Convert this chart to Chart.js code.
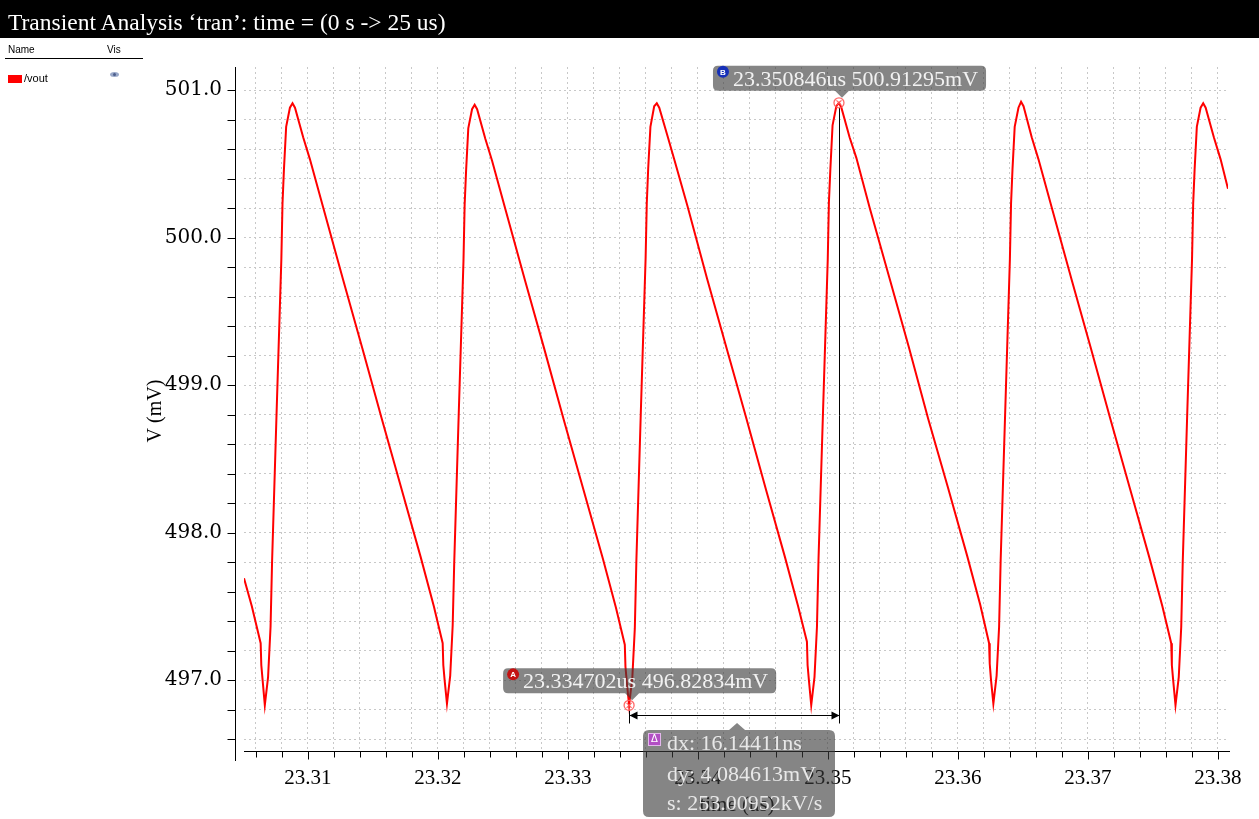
<!DOCTYPE html>
<html>
<head>
<meta charset="utf-8">
<script src="https://cdn.jsdelivr.net/npm/chart.js@4.4.1/dist/chart.umd.min.js"></script>
<style>
  html, body { margin: 0; padding: 0; background: #fff; }
  #wrap { position: relative; width: 1259px; height: 819px; overflow: hidden; }
  #plot { position: absolute; left: 0; top: 0; }
  #titlebar { position: absolute; left: 0; top: 0; width: 1259px; height: 38px; background: #000; }
  #titlebar span { position: absolute; left: 8px; top: 11px; font: 23.5px/23px "Liberation Serif", serif; color: #fff; white-space: nowrap; }
  .lg { position: absolute; font-family: "Liberation Sans", Arial, sans-serif; color: #000; white-space: nowrap; }
  #lgline { position: absolute; left: 5px; top: 58px; width: 138px; height: 1px; background: #000; }
  #swatch { position: absolute; left: 8px; top: 75px; width: 14px; height: 8px; background: #ff0000; }
  #eye { position: absolute; left: 110px; top: 72px; width: 9px; height: 5px; border-radius: 50%; background: #9aa9c9; }
  #eye i { position: absolute; left: 3px; top: 1px; width: 3px; height: 3px; border-radius: 50%; background: #4d5f8c; }
</style>
</head>
<body>
<div id="wrap">
  <canvas id="plot" width="1259" height="819"></canvas>
  <div id="titlebar"><span>Transient Analysis ‘tran’: time = (0 s -&gt; 25 us)</span></div>
  <div class="lg" style="left:8px; top:44px; font-size:10px;">Name</div>
  <div class="lg" style="left:107px; top:44px; font-size:10px;">Vis</div>
  <div id="lgline"></div>
  <div id="swatch"></div>
  <div class="lg" style="left:24px; top:72px; font-size:11px;">/vout</div>
  <div id="eye"><i></i></div>
</div>
<script>
// time (us) and /vout (mV)
const timeUs = [
  23.305080, 23.305682, 23.306362, 23.306412, 23.306512,
  23.306682, 23.306932, 23.307122, 23.307242, 23.307582, 23.307952, 23.308042, 23.308152, 23.308322, 23.308612, 23.308812, 23.309002,
  23.309632, 23.310152, 23.311182, 23.312682, 23.314182, 23.315682, 23.317182, 23.318682, 23.319682, 23.320362, 23.320412, 23.320512,
  23.320692, 23.320942, 23.321132, 23.321252, 23.321592, 23.321962, 23.322052, 23.322162, 23.322332, 23.322622, 23.322822, 23.323012,
  23.323642, 23.324162, 23.325192, 23.326692, 23.328192, 23.329692, 23.331192, 23.332692, 23.333692, 23.334372, 23.334422, 23.334522,
  23.334702, 23.334952, 23.335142, 23.335262, 23.335602, 23.335972, 23.336062, 23.336172, 23.336342, 23.336632, 23.336832, 23.337022,
  23.337652, 23.338172, 23.339202, 23.340702, 23.342202, 23.343702, 23.345202, 23.346702, 23.347702, 23.348382, 23.348432, 23.348532,
  23.348712, 23.348962, 23.349152, 23.349272, 23.349612, 23.349982, 23.350072, 23.350182, 23.350352, 23.350642, 23.350846, 23.351032,
  23.351662, 23.352182, 23.353212, 23.354712, 23.356212, 23.357712, 23.359212, 23.360712, 23.361712, 23.362392, 23.362442, 23.362542,
  23.362722, 23.362972, 23.363162, 23.363282, 23.363622, 23.363992, 23.364082, 23.364192, 23.364362, 23.364652, 23.364852, 23.365042,
  23.365672, 23.366192, 23.367222, 23.368722, 23.370222, 23.371722, 23.373222, 23.374722, 23.375722, 23.376402, 23.376452, 23.376552,
  23.376732, 23.376982, 23.377172, 23.377292, 23.377632, 23.378002, 23.378092, 23.378202, 23.378372, 23.378662, 23.378862, 23.379052,
  23.379682, 23.380202, 23.380770
];
const voutMv = [
  497.69, 497.50, 497.25, 497.10, 497.00,
  496.83, 497.02, 497.36, 497.81, 498.80, 499.85, 500.23, 500.46, 500.75, 500.88, 500.91, 500.88,
  500.68, 500.53, 500.20, 499.72, 499.25, 498.77, 498.30, 497.83, 497.50, 497.25, 497.10, 497.00,
  496.84, 497.03, 497.37, 497.80, 498.79, 499.84, 500.22, 500.45, 500.74, 500.87, 500.90, 500.87,
  500.67, 500.52, 500.19, 499.71, 499.24, 498.76, 498.29, 497.82, 497.49, 497.24, 497.09, 496.99,
  496.82834, 497.02, 497.35, 497.81, 498.81, 499.86, 500.23, 500.47, 500.75, 500.89, 500.91, 500.88,
  500.69, 500.53, 500.21, 499.72, 499.25, 498.78, 498.30, 497.83, 497.50, 497.26, 497.10, 497.00,
  496.83, 497.02, 497.36, 497.82, 498.80, 499.85, 500.24, 500.46, 500.76, 500.89, 500.91295, 500.88,
  500.68, 500.54, 500.20, 499.73, 499.26, 498.77, 498.31, 497.84, 497.51, 497.25, 497.11, 497.00,
  496.84, 497.03, 497.36, 497.81, 498.79, 499.85, 500.23, 500.46, 500.75, 500.88, 500.92, 500.89,
  500.68, 500.53, 500.20, 499.72, 499.25, 498.77, 498.30, 497.83, 497.50, 497.25, 497.10, 497.00,
  496.83, 497.02, 497.36, 497.81, 498.80, 499.85, 500.23, 500.46, 500.75, 500.88, 500.91, 500.88,
  500.68, 500.53, 500.33
];

const xMajorTicks = [23.31, 23.32, 23.33, 23.34, 23.35, 23.36, 23.37, 23.38];
const yMajorTicks = [497.0, 498.0, 499.0, 500.0, 501.0];
const X_RANGE = [23.30508, 23.38077];
const Y_RANGE = [496.519, 501.156];

const markerA = [23.334702, 496.82834];
const markerB = [23.350846, 500.91295];
const labelA = '23.334702us 496.82834mV';
const labelB = '23.350846us 500.91295mV';
const deltaLines = ['dx: 16.14411ns', 'dy: 4.084613mV', 's: 253.00952kV/s'];

const SERIF = '"Liberation Serif", "Times New Roman", serif';
const TAG_BG = 'rgba(58,58,58,0.62)';

function minorTicks(lo, hi, step) {
  const out = [];
  for (let v = Math.ceil(lo / step - 1e-9) * step; v <= hi + 1e-9; v += step) out.push(+v.toFixed(6));
  return out;
}
const isMajor = (v, majors) => majors.some(m => Math.abs(m - v) < 1e-7);

function tagPath(ctx, l, t, w, h, r) {
  ctx.moveTo(l + r, t);
  ctx.lineTo(l + w - r, t); ctx.quadraticCurveTo(l + w, t, l + w, t + r);
  ctx.lineTo(l + w, t + h - r); ctx.quadraticCurveTo(l + w, t + h, l + w - r, t + h);
  ctx.lineTo(l + r, t + h); ctx.quadraticCurveTo(l, t + h, l, t + h - r);
  ctx.lineTo(l, t + r); ctx.quadraticCurveTo(l, t, l + r, t);
  ctx.closePath();
}

function drawTag(ctx, px, py, letter, color, text) {
  ctx.font = '22px ' + SERIF;
  const w = ctx.measureText(text).width + 28, h = 25;
  const l = px - 126, t = py - 37;
  ctx.fillStyle = TAG_BG;
  ctx.beginPath();
  tagPath(ctx, l, t, w, h, 5);
  ctx.moveTo(px - 4, t + h); ctx.lineTo(px + 10, t + h); ctx.lineTo(px + 3, py - 5); ctx.closePath();
  ctx.fill();
  ctx.beginPath(); ctx.arc(l + 10, t + 6, 6, 0, Math.PI * 2); ctx.fillStyle = color; ctx.fill();
  ctx.fillStyle = '#fff'; ctx.font = 'bold 8px "Liberation Sans", sans-serif';
  ctx.textAlign = 'center'; ctx.textBaseline = 'middle';
  ctx.fillText(letter, l + 10, t + 6.5);
  ctx.textAlign = 'left'; ctx.textBaseline = 'alphabetic';
  ctx.fillStyle = '#f2f2f2'; ctx.font = '22px ' + SERIF;
  ctx.fillText(text, l + 20, t + 20);
}

function drawMark(ctx, px, py) {
  ctx.strokeStyle = 'rgba(255,90,90,0.9)'; ctx.lineWidth = 1.3;
  ctx.beginPath(); ctx.arc(px, py, 5, 0, Math.PI * 2); ctx.stroke();
  ctx.beginPath();
  ctx.moveTo(px - 2.5, py - 2.5); ctx.lineTo(px + 2.5, py + 2.5);
  ctx.moveTo(px + 2.5, py - 2.5); ctx.lineTo(px - 2.5, py + 2.5);
  ctx.stroke();
}

const overlay = {
  id: 'overlay',
  afterDraw(chart) {
    const { ctx, chartArea: ca, scales: { x, y } } = chart;
    ctx.save();

    // axis lines and tick marks
    ctx.strokeStyle = '#000'; ctx.lineWidth = 1;
    const axX = ca.left - 9 + 0.5, axY = ca.bottom + 0.5;
    ctx.beginPath();
    ctx.moveTo(axX, ca.top); ctx.lineTo(axX, ca.bottom + 10);
    y.ticks.forEach(tk => {
      const py = Math.round(y.getPixelForValue(tk.value)) + 0.5;
      ctx.moveTo(axX - 8, py); ctx.lineTo(axX, py);
    });
    ctx.moveTo(ca.left, axY); ctx.lineTo(ca.right + 2, axY);
    x.ticks.forEach(tk => {
      const px = Math.round(x.getPixelForValue(tk.value)) + 0.5;
      ctx.moveTo(px, axY); ctx.lineTo(px, axY + (isMajor(tk.value, xMajorTicks) ? 8 : 6));
    });
    ctx.stroke();

    // axis titles
    ctx.fillStyle = '#000';
    ctx.font = '20px ' + SERIF;
    ctx.textAlign = 'center'; ctx.textBaseline = 'middle';
    ctx.save();
    ctx.translate(156, (ca.top + ca.bottom) / 2 + 2);
    ctx.rotate(-Math.PI / 2);
    ctx.fillText('V (mV)', 0, 0);
    ctx.restore();
    ctx.font = '21px ' + SERIF;
    ctx.fillText('time (us)', (ca.left + ca.right) / 2 + 1, 805);

    // markers A and B with the delta measurement
    const ax = x.getPixelForValue(markerA[0]), ay = y.getPixelForValue(markerA[1]);
    const bx = x.getPixelForValue(markerB[0]), by = y.getPixelForValue(markerB[1]);
    const arrowY = Math.round(ay + 10) + 0.5;
    const vax = Math.round(ax) + 0.5, vbx = Math.round(bx) + 0.5;
    ctx.strokeStyle = '#000'; ctx.lineWidth = 1;
    ctx.beginPath();
    ctx.moveTo(vax, ay + 5); ctx.lineTo(vax, arrowY + 8);
    ctx.moveTo(vbx, by + 5); ctx.lineTo(vbx, arrowY + 8);
    ctx.moveTo(vax, arrowY); ctx.lineTo(vbx, arrowY);
    ctx.stroke();
    ctx.fillStyle = '#000';
    ctx.beginPath();
    ctx.moveTo(vax, arrowY); ctx.lineTo(vax + 8, arrowY - 4); ctx.lineTo(vax + 8, arrowY + 4); ctx.closePath();
    ctx.moveTo(vbx, arrowY); ctx.lineTo(vbx - 8, arrowY - 4); ctx.lineTo(vbx - 8, arrowY + 4); ctx.closePath();
    ctx.fill();

    drawMark(ctx, ax, ay);
    drawMark(ctx, bx, by);
    drawTag(ctx, ax, ay, 'A', '#c41212', labelA);
    drawTag(ctx, bx, by, 'B', '#1630b8', labelB);

    // delta box
    const midX = (ax + bx) / 2;
    const dl = Math.round(midX - 91), dt = Math.round(arrowY + 14), dw = 192, dh = 87;
    ctx.fillStyle = TAG_BG;
    ctx.beginPath();
    tagPath(ctx, dl, dt, dw, dh, 6);
    ctx.moveTo(midX - 5, dt); ctx.lineTo(midX + 3, dt - 7); ctx.lineTo(midX + 11, dt); ctx.closePath();
    ctx.fill();
    ctx.fillStyle = '#b24ec4';
    ctx.fillRect(dl + 5, dt + 3, 13, 13);
    ctx.strokeStyle = '#e3b6ec'; ctx.lineWidth = 1;
    ctx.strokeRect(dl + 5.5, dt + 3.5, 12, 12);
    ctx.fillStyle = '#fff'; ctx.font = '10px "DejaVu Sans", sans-serif';
    ctx.textAlign = 'center'; ctx.textBaseline = 'middle';
    ctx.fillText('Δ', dl + 11.5, dt + 9.5);
    ctx.textAlign = 'left'; ctx.textBaseline = 'alphabetic';
    ctx.fillStyle = '#e8e8e8'; ctx.font = '22px ' + SERIF;
    [20, 51, 80].forEach((off, i) => ctx.fillText(deltaLines[i], dl + 24, dt + off));

    ctx.restore();
  }
};

const gridStyle = { color: '#c8c8c8', lineWidth: 1, drawTicks: false };

new Chart(document.getElementById('plot'), {
  type: 'line',
  data: {
    datasets: [{
      label: '/vout',
      data: timeUs.map((t, i) => ({ x: t, y: voutMv[i] })),
      borderColor: '#ff0000',
      borderWidth: 2,
      pointRadius: 0,
      tension: 0,
      fill: false
    }]
  },
  options: {
    responsive: false,
    animation: false,
    layout: { padding: { top: 67, right: 31, left: 0, bottom: 0 } },
    plugins: { legend: { display: false }, tooltip: { enabled: false } },
    scales: {
      x: {
        type: 'linear',
        min: X_RANGE[0],
        max: X_RANGE[1],
        afterBuildTicks: s => { s.ticks = minorTicks(X_RANGE[0], X_RANGE[1], 0.002).map(v => ({ value: v })); },
        afterFit: s => { s.height = 68; },
        ticks: {
          autoSkip: false, maxRotation: 0, padding: 15, color: '#000',
          font: { family: SERIF, size: 21 },
          callback: v => isMajor(v, xMajorTicks) ? v.toFixed(2) : ''
        },
        grid: gridStyle,
        border: { display: false, dash: [2, 3] }
      },
      y: {
        min: Y_RANGE[0],
        max: Y_RANGE[1],
        afterBuildTicks: s => { s.ticks = minorTicks(Y_RANGE[0], Y_RANGE[1], 0.2).map(v => ({ value: v })); },
        afterFit: s => { s.width = 244; },
        ticks: {
          autoSkip: false, padding: 22, color: '#000',
          font: { family: '"DejaVu Serif", serif', size: 20 },
          callback: v => isMajor(v, yMajorTicks) ? v.toFixed(1) : ''
        },
        grid: gridStyle,
        border: { display: false, dash: [2, 3] }
      }
    }
  },
  plugins: [overlay]
});
</script>
</body>
</html>
